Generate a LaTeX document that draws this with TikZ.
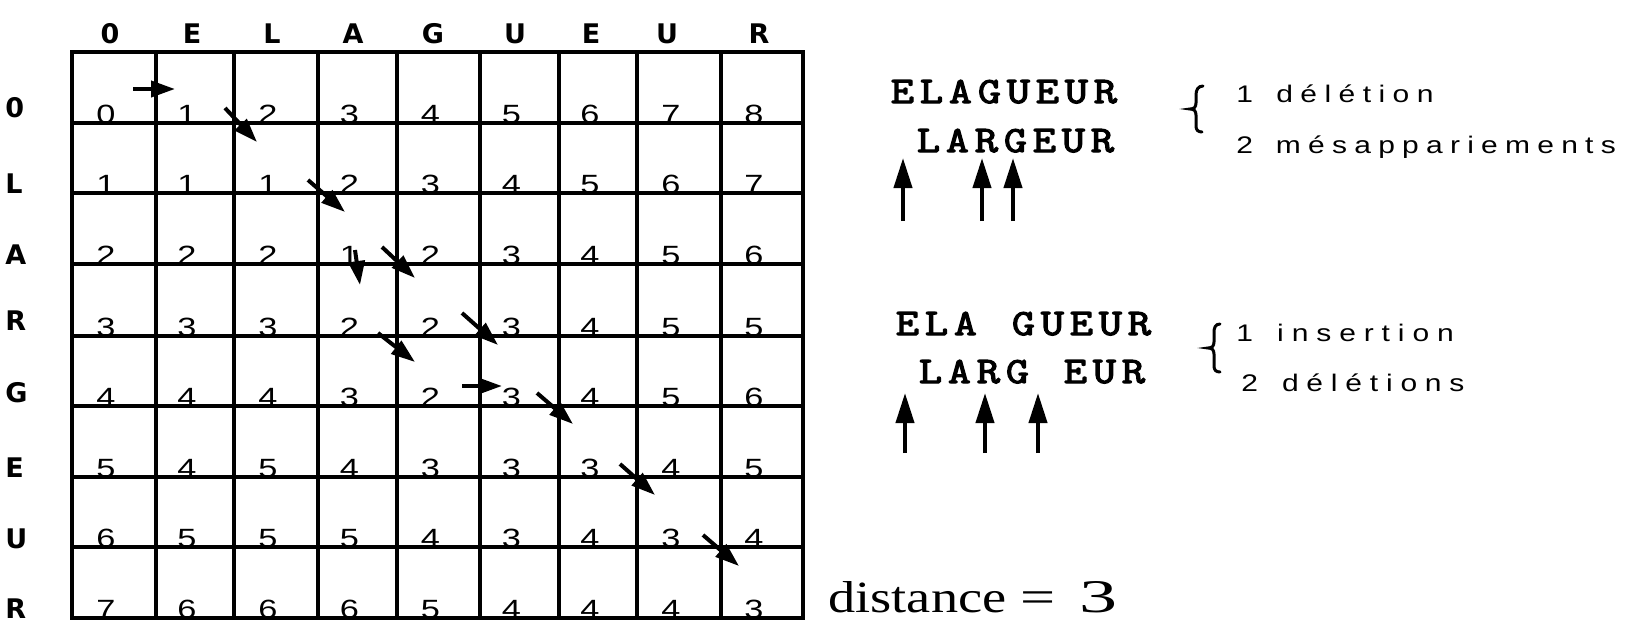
\documentclass[tikz,border=0pt]{standalone}
\usepackage{fontspec}
\setmainfont{Liberation Sans}
\newfontfamily\hdrfont{DejaVu Sans}
\newfontfamily\serifont{Liberation Serif}
\newfontfamily\courfont[FakeBold=3]{Latin Modern Mono}
\usetikzlibrary{arrows.meta}
\newlength\lspamt
\newcommand\spacedtext[2]{\setlength\lspamt{#1}\scalebox{1.25}[1]{\spacedaux#2\relax}}
\def\spacedaux#1{\ifx#1\relax\else#1\hspace{\lspamt}\expandafter\spacedaux\fi}
\newcommand\monoseq[1]{\monoaux#1\relax}
\def\monoaux#1{\ifx#1\relax\else\makebox[14.5pt]{\ifx#1~\else\resizebox{!}{11.5pt}{\scalebox{1.2}[1]{#1}}\fi}\expandafter\monoaux\fi}
\begin{document}
\begin{tikzpicture}[x=0.5pt,y=-0.5pt,
  gridline/.style={line width=2pt, line cap=rect},
  patharrow/.style={line width=2pt,-{Triangle[length=12pt,width=8pt]}},
  markarrow/.style={line width=2pt,-{Triangle[length=15pt,width=9pt]}},
  hdr/.style={font=\hdrfont\bfseries\fontsize{13.5pt}{15pt}\selectfont, inner sep=0pt, anchor=base},
  rowlab/.style={hdr, anchor=base west},
  cellnum/.style={font=\fontsize{13.2pt}{14pt}\selectfont, inner sep=0pt, anchor=base},
  seq/.style={font=\courfont\fontsize{18.8pt}{20pt}\selectfont, inner sep=0pt, anchor=base west},
  note/.style={font=\fontsize{12pt}{14pt}\selectfont, inner sep=0pt, anchor=base west},
  bracepath/.style={line width=1.5pt, line cap=round}]
\useasboundingbox (0,0) rectangle (1629,638);
% grid
\foreach \x in {72,156,234,318,397,480,559,637,721,803}
  \draw[gridline] (\x,52) -- (\x,618);
\foreach \y in {52,123,193,264,336,406,477,547,618}
  \draw[gridline] (72,\y) -- (803,\y);
% column headers
\foreach \t/\x [count=\k] in {0/110,E/192,L/272,A/353,G/433,U/515,E/591,U/667,R/759}
  \node[hdr] (h\k) at (\x,43) {\t};
% row labels
\foreach \t/\y [count=\k] in {0/117,L/193,A/264,R/330,G/402,E/477,U/548,R/618}
  \node[rowlab] (r\k) at (5,\y) {\t};
% cell values
\def\xs{{106,187,268,349.5,430.5,511.5,590,671,754}}
\def\ys{{123,193,264,336,406,477,547,618}}
\foreach \row [count=\i] in {{0,1,2,3,4,5,6,7,8},{1,1,1,2,3,4,5,6,7},{2,2,2,1,2,3,4,5,6},{3,3,3,2,2,3,4,5,5},{4,4,4,3,2,3,4,5,6},{5,4,5,4,3,3,3,4,5},{6,5,5,5,4,3,4,3,4},{7,6,6,6,5,4,4,4,3}}{
  \foreach \v [count=\j] in \row {
    \pgfmathsetmacro\xx{\xs[\j-1]}
    \pgfmathsetmacro\yy{\ys[\i-1]}
    \node[cellnum] (v\i-\j) at (\xx,\yy) {\scalebox{1.3}[1]{\v}};
  }
}
% path arrows
\foreach \n/\sx/\sy/\ex/\ey in {1/133/89/175/89, 2/225/108/257/142, 3/308/180/345/212, 4/355/250/360/285, 5/382/247/415/278, 6/462/313/498/345, 7/378/333/415/362, 8/462/386/502/386, 9/537/393/573/424, 10/620/464/655/495, 11/703/535/739/566}{
  \coordinate (a\n s) at (\sx,\sy);
  \coordinate (a\n e) at (\ex,\ey);
  \draw[patharrow] (a\n s) -- (a\n e);
}
% alignments
\node[seq] (s1a) at (887.5,103) {\monoseq{ELAGUEUR}};
\node[seq] (s1b) at (913.5,152) {\monoseq{LARGEUR}};
\node[seq] (s2a) at (892.5,335) {\monoseq{ELA~GUEUR}};
\node[seq] (s2b) at (915.5,383) {\monoseq{LARG~EUR}};
% marker arrows
\foreach \n/\x/\yb/\yt in {1/903/221/158, 2/982/221/158, 3/1013/221/158, 4/905/453/393, 5/985/453/393, 6/1038/453/393}{
  \coordinate (m\n s) at (\x,\yb);
  \coordinate (m\n e) at (\x,\yt);
  \draw[markarrow] (m\n s) -- (m\n e);
}
% braces
\draw[bracepath] (1203,86) .. controls (1198,86) and (1196,90) .. (1196,95) -- (1196,103)
  .. controls (1196,107) and (1194,109) .. (1190,109)
  .. controls (1194,109) and (1196,111) .. (1196,115) -- (1196,126)
  .. controls (1196,130) and (1198,132) .. (1202,132);
\draw[bracepath] (1220,324) .. controls (1215,324) and (1214,328) .. (1214,333) -- (1214,342)
  .. controls (1214,346) and (1212,348) .. (1208,348)
  .. controls (1212,348) and (1214,350) .. (1214,354) -- (1214,366)
  .. controls (1214,370) and (1216,372) .. (1220,372);
% notes
\node[note] (n1) at (1236,102) {\spacedtext{2.98pt}{1~délétion}};
\node[note] (n2) at (1236,153) {\spacedtext{2.9pt}{2~mésappariements}};
\node[note] (n3) at (1236,341) {\spacedtext{3.16pt}{1~insertion}};
\node[note] (n4) at (1241,391) {\spacedtext{3.12pt}{2~délétions}};
% distance
\node[font=\serifont\fontsize{22.7pt}{25pt}\selectfont, inner sep=0pt, anchor=base west] (dist) at (828,612)
  {\resizebox{89pt}{15.5pt}{distance}\hspace{7pt}\scalebox{1.37}[1]{=}\hspace{12pt}\resizebox{19pt}{15.5pt}{3}};
\end{tikzpicture}
\end{document}
